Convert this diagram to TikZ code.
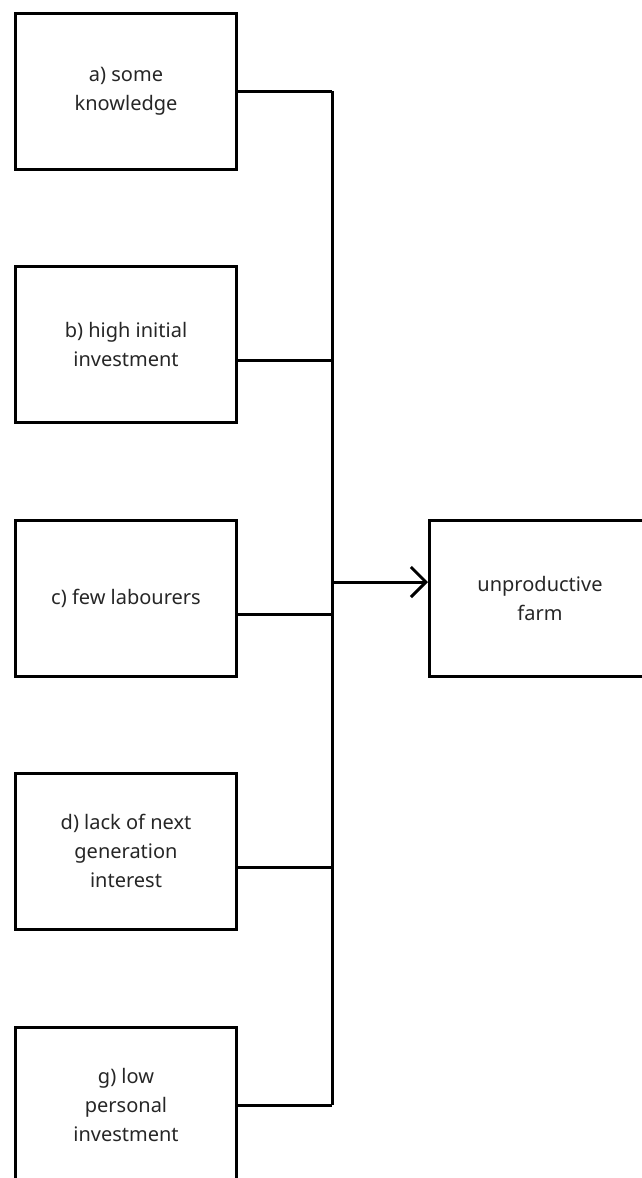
\documentclass[tikz,border=0pt]{standalone}
\usepackage{fontspec}
\setmainfont{Noto Sans}
\usepackage{tikz}
\usetikzlibrary{calc,positioning}
\usetikzlibrary{arrows.meta}
\tikzset{>={Straight Barb[width=30pt,length=15pt,line width=3pt]}}

\begin{document}
\begin{tikzpicture}[x=1pt,y=1pt]
      \tikzstyle{cnode} = [line width=3pt, draw=black, rectangle, minimum width=221pt, minimum height=156pt, inner sep=2pt, align=center, text=black!85, font=\fontsize{20}{29}\selectfont]
      \tikzstyle{link} = [line width=3pt, draw=black]

      \useasboundingbox (0,0) rectangle (641,-1178);

      % causes
      \node[cnode] (ca) at (126,-91) {a) some\\knowledge};
      \node[cnode] (cb) at (126,-344) {b) high initial\\investment};
      \node[cnode] (cc) at (126,-598) {c) few labourers};
      \node[cnode] (cd) at (126,-851) {d) lack of next\\generation\\interest};
      \node[cnode] (cg) at (126,-1105) {g) low\\personal\\investment};

      % effect
      \node[cnode] (farm) at (540,-598) {unproductive\\farm};

      % trunk
      \coordinate (top) at (332,-91);
      \coordinate (bot) at (332,-1105);
      \coordinate (hub) at (332,-582);

      % edge causes to trunk
      \draw[link] (ca.east) -- (top);
      \draw[link] ([yshift=-16pt]cb.east) -- ([yshift=-16pt]cb.east -| top);
      \draw[link] ([yshift=-16pt]cc.east) -- ([yshift=-16pt]cc.east -| top);
      \draw[link] ([yshift=-16pt]cd.east) -- ([yshift=-16pt]cd.east -| top);
      \draw[link] (cg.east) -- (bot);
      \draw[link] (top) -- (bot);

      % edge trunk to effect
      \draw[link,->] (hub) -- (hub -| farm.west);
\end{tikzpicture}
\end{document}
